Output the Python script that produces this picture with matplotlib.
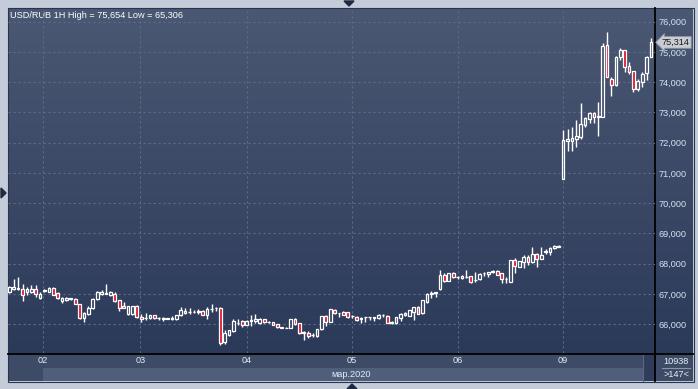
import matplotlib
matplotlib.use('Agg')
import matplotlib.pyplot as plt
import numpy as np
from matplotlib.patches import Rectangle, Polygon
from matplotlib.colors import LinearSegmentedColormap

# ---------------- data (hourly candles, USD/RUB) ----------------
opens = [67.06, 67.16, 67.15, 67.16, 67.06, 67.08, 67.16, 66.88, 67.11, 67.08,
         67.20, 67.02, 66.78, 66.79, 66.85, 66.84, 66.67, 66.22, 66.33, 66.53,
         66.83, 67.00, 67.01, 66.97, 66.99, 66.80, 66.60, 66.33, 66.33, 66.60,
         66.25, 66.20, 66.20, 66.30, 66.21, 66.20, 66.19, 66.19, 66.16, 66.31,
         66.44, 66.40, 66.41, 66.42, 66.45, 66.31, 66.49, 66.53, 66.53, 65.40,
         65.63, 65.79, 66.04, 66.10, 65.98, 66.12, 66.11, 66.05, 66.16, 66.08,
         66.07, 66.01, 65.89, 65.89, 65.89, 66.17, 66.03, 65.70, 65.72, 65.64,
         65.61, 65.83, 66.27, 66.09, 66.47, 66.36, 66.41, 66.41, 66.27, 66.25,
         66.20, 66.23, 66.23, 66.22, 66.20, 66.31, 66.27, 66.05, 66.03, 66.20,
         66.38, 66.27, 66.40, 66.58, 66.36, 66.75, 67.01, 67.03, 67.16, 67.63,
         67.44, 67.68, 67.55, 67.52, 67.55, 67.58, 67.46, 67.49, 67.68, 67.65,
         67.74, 67.76, 67.68, 67.50, 67.39, 68.12, 67.90, 68.07, 68.23, 68.07,
         68.32, 68.17, 68.40, 68.40, 68.51, 68.56, 70.79, 72.07, 72.07, 72.12,
         72.18, 72.59, 72.79, 72.97, 72.84, 72.86, 75.23, 74.10, 73.89, 74.82,
         75.06, 74.54, 74.37, 73.78, 74.02, 74.31, 74.84]
highs = [67.25, 67.50, 67.57, 67.33, 67.24, 67.29, 67.30, 67.05, 67.16, 67.22,
         67.22, 67.08, 66.91, 66.90, 66.87, 66.86, 66.68, 66.40, 66.60, 66.86,
         67.11, 67.13, 67.33, 67.10, 67.05, 66.80, 66.73, 66.61, 66.61, 66.65,
         66.34, 66.36, 66.32, 66.31, 66.23, 66.23, 66.20, 66.27, 66.32, 66.56,
         66.55, 66.53, 66.47, 66.49, 66.46, 66.58, 66.67, 66.58, 66.58, 65.81,
         65.81, 66.16, 66.16, 66.14, 66.13, 66.31, 66.33, 66.20, 66.18, 66.11,
         66.08, 66.02, 65.90, 65.90, 66.18, 66.21, 66.05, 65.78, 65.78, 65.72,
         65.84, 66.28, 66.31, 66.52, 66.51, 66.38, 66.44, 66.42, 66.31, 66.26,
         66.25, 66.24, 66.25, 66.23, 66.33, 66.34, 66.29, 66.10, 66.24, 66.36,
         66.40, 66.48, 66.58, 66.59, 66.81, 67.02, 67.10, 67.08, 67.79, 67.71,
         67.70, 67.72, 67.60, 67.62, 67.79, 67.60, 67.74, 67.70, 67.74, 67.74,
         67.79, 67.78, 67.70, 67.57, 68.13, 68.20, 68.10, 68.29, 68.29, 68.56,
         68.37, 68.56, 68.48, 68.54, 68.61, 68.62, 72.42, 72.44, 72.51, 72.75,
         73.30, 72.86, 73.00, 73.00, 73.36, 75.28, 75.654, 74.18, 74.85, 75.12,
         75.07, 74.65, 74.38, 74.10, 74.35, 74.87, 75.45]
lows = [67.03, 67.13, 67.12, 66.78, 66.97, 67.02, 66.89, 66.85, 67.06, 67.06,
        66.96, 66.84, 66.71, 66.78, 66.81, 66.66, 66.19, 66.08, 66.31, 66.52,
        66.80, 66.97, 67.00, 66.94, 66.75, 66.45, 66.53, 66.32, 66.32, 66.20,
        66.09, 66.14, 66.19, 66.19, 66.14, 66.12, 66.18, 66.14, 66.15, 66.27,
        66.33, 66.34, 66.36, 66.34, 66.30, 66.19, 66.42, 66.45, 65.306, 65.36,
        65.60, 65.76, 65.98, 65.90, 65.96, 65.94, 66.05, 66.02, 66.05, 66.03,
        65.96, 65.88, 65.88, 65.86, 65.88, 65.97, 65.68, 65.48, 65.53, 65.57,
        65.59, 65.82, 65.94, 66.07, 66.34, 66.25, 66.29, 66.21, 66.20, 66.10,
        66.03, 66.09, 66.14, 66.12, 66.18, 66.25, 66.04, 66.00, 66.02, 66.10,
        66.28, 66.26, 66.14, 66.34, 66.34, 66.69, 66.86, 66.89, 67.13, 67.38,
        67.42, 67.52, 67.51, 67.51, 67.52, 67.36, 67.41, 67.46, 67.60, 67.57,
        67.70, 67.62, 67.35, 67.35, 67.38, 67.68, 67.88, 67.85, 67.96, 68.01,
        67.90, 68.16, 68.32, 68.29, 68.50, 68.54, 70.79, 71.71, 71.71, 71.87,
        72.11, 72.53, 72.64, 72.66, 72.22, 72.84, 74.16, 73.55, 73.88, 74.73,
        74.33, 74.27, 73.69, 73.72, 73.85, 74.07, 74.82]
closes = [67.22, 67.22, 67.19, 66.97, 67.16, 67.17, 66.99, 67.00, 67.12, 67.20,
          66.97, 66.86, 66.88, 66.88, 66.86, 66.67, 66.22, 66.36, 66.53, 66.85,
          67.08, 67.08, 67.02, 67.07, 66.78, 66.53, 66.55, 66.60, 66.59, 66.23,
          66.17, 66.21, 66.31, 66.20, 66.20, 66.19, 66.19, 66.20, 66.31, 66.47,
          66.36, 66.40, 66.41, 66.43, 66.31, 66.51, 66.50, 66.53, 65.39, 65.70,
          65.80, 66.11, 66.05, 65.98, 66.12, 66.12, 66.17, 66.17, 66.07, 66.09,
          65.98, 65.90, 65.89, 65.88, 66.17, 66.01, 65.70, 65.75, 65.62, 65.65,
          65.83, 66.27, 66.09, 66.51, 66.36, 66.37, 66.31, 66.23, 66.28, 66.14,
          66.18, 66.24, 66.24, 66.23, 66.31, 66.30, 66.05, 66.06, 66.23, 66.34,
          66.30, 66.47, 66.56, 66.34, 66.80, 67.00, 67.02, 67.05, 67.63, 67.44,
          67.68, 67.55, 67.56, 67.60, 67.56, 67.39, 67.47, 67.66, 67.69, 67.74,
          67.75, 67.63, 67.50, 67.51, 68.12, 67.93, 68.09, 68.23, 68.07, 68.32,
          68.17, 68.29, 68.41, 68.51, 68.60, 68.60, 72.09, 72.11, 72.17, 72.22,
          72.61, 72.81, 72.97, 72.84, 72.89, 75.20, 74.16, 73.89, 74.84, 75.06,
          74.51, 74.33, 73.78, 74.04, 74.27, 74.84, 75.314]

day_ticks = [7.7, 29.8, 54, 78, 102, 126]
day_labels = ['02', '03', '04', '05', '06', '09']
price_ticks = [66, 67, 68, 69, 70, 71, 72, 73, 74, 75, 76]
title = 'USD/RUB 1H High = 75,654 Low = 65,306'
month_label = 'мар.2020'
volume_label = '10938'
bars_label = '>147<'

FONT = 'Liberation Sans'
W, H = 698, 389
fig = plt.figure(figsize=(W / 100, H / 100), dpi=100)
fig.patch.set_facecolor('#c3ccd8')

# ---------------- background / frame (pixel coordinates) ----------------
bg = fig.add_axes([0, 0, 1, 1])
cmap = LinearSegmentedColormap.from_list('g', ['#4b5873', '#2c3a5a'])
grad = np.linspace(0, 1, 256)[:, None]
bg.imshow(grad, extent=(8, 693, 353, 8), cmap=cmap, aspect='auto',
          interpolation='bicubic')
bg.add_patch(Rectangle((8, 353), 685, 28, color='#3d4b67', lw=0))
bg.add_patch(Rectangle((43, 368), 600, 13, color='#4f5f7b', lw=0))
bg.add_patch(Rectangle((643, 355), 12, 26, color='#2f3d5b', lw=0))
bg.plot([643, 643], [355, 381], color='#5b6884', lw=0.8)
bg.add_patch(Rectangle((7.5, 7.5), 686, 374, fill=False, ec='#2a3450', lw=0.8))
bg.plot([655, 655], [8, 381], color='black', lw=1.3)
bg.plot([8, 693], [353.5, 353.5], color='black', lw=1.3)
bg.plot([662, 690], [368, 368], color='#8a94a8', lw=0.8)
# small navigation triangles
bg.add_patch(Polygon([[344, 1], [354, 1], [349, 6]], color='#1f2a40'))
bg.add_patch(Polygon([[347, 389], [357, 389], [352, 384]], color='#1f2a40'))
bg.add_patch(Polygon([[1, 188], [1, 198], [6, 193]], color='#1f2a40'))
bg.text(10, 15, title, color='white', fontsize=6.6, family=FONT, va='center')
bg.text(351.5, 374.5, month_label, color='#e6ecf4', fontsize=6.6, family=FONT,
        ha='center', va='center')
bg.text(676, 361.5, volume_label, color='#e6ecf4', fontsize=6.6, family=FONT,
        ha='center', va='center')
bg.text(676, 374.5, bars_label, color='#e6ecf4', fontsize=6.6, family=FONT,
        ha='center', va='center')
bg.set_xlim(0, W)
bg.set_ylim(H, 0)
bg.axis('off')

# ---------------- main price axes ----------------
ax = fig.add_axes([8 / W, 1 - 353 / H, (655 - 8) / W, (353 - 8) / H])
ax.set_facecolor('none')
for s in ax.spines.values():
    s.set_visible(False)

x = np.arange(len(closes))
o = np.array(opens); c = np.array(closes)
h = np.array(highs); l = np.array(lows)
top = np.maximum(o, c); bot = np.minimum(o, c)
up = c >= o
ax.vlines(x, top, h, color='white', lw=1.0, zorder=3)
ax.vlines(x, l, bot, color='white', lw=1.0, zorder=3)
face = np.where(up, 'none', '#e0122c')
ax.bar(x, np.maximum(top - bot, 0.004), bottom=bot, width=0.62,
       color=list(face), edgecolor='white', linewidth=0.9, zorder=4)

ax.set_xlim(-0.3, 146.9)
ax.set_ylim(65.05, 76.45)
ax.set_yticks(price_ticks)
ax.set_yticklabels([f'{v:.3f}'.replace('.', ',') for v in price_ticks])
ax.set_xticks(day_ticks)
ax.set_xticklabels(day_labels)
ax.yaxis.tick_right()
ax.tick_params(axis='y', length=0, pad=2.5, labelsize=6.6, labelcolor='#d6e2f2')
ax.tick_params(axis='x', length=0, pad=2.5, labelsize=6.6, labelcolor='#e6ecf4')
for lab in ax.get_xticklabels() + ax.get_yticklabels():
    lab.set_family(FONT)
ax.grid(True, color='#5d6b87', linestyle=(0, (2, 2.5)), linewidth=0.8, zorder=0)
ax.set_axisbelow(True)

# last price tag
last = closes[-1]
ax.annotate(f'{last:.3f}'.replace('.', ','), xy=(1.0, last),
            xycoords=ax.get_yaxis_transform(), xytext=(5, 0),
            textcoords='offset points', ha='left', va='center',
            fontsize=6.6, family=FONT, color='#1a1a1a',
            bbox=dict(boxstyle='larrow,pad=0.15', fc='#c9cdd3', ec='#8f96a0', lw=0.6),
            annotation_clip=False, zorder=6)

fig.savefig('out.png', dpi=100, facecolor=fig.get_facecolor())
